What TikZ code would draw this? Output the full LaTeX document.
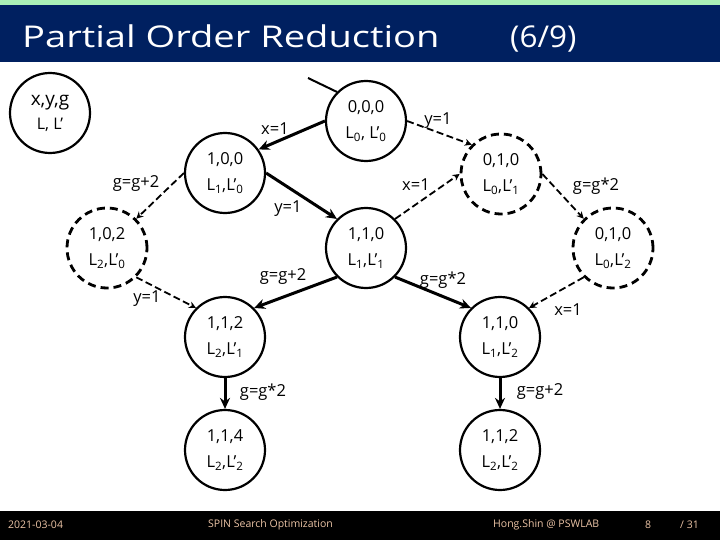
\documentclass[tikz,border=0pt]{standalone}
\usepackage{fontspec}
\setmainfont{Open Sans}
\usetikzlibrary{arrows.meta}
\definecolor{navy}{RGB}{0,32,96}
\definecolor{topgreen}{RGB}{170,240,182}
\definecolor{foottext}{RGB}{236,196,166}
\begin{document}
\begin{tikzpicture}[x=1pt,y=-1pt,
  st/.style={draw,circle,minimum size=80pt,inner sep=0pt,line width=2.2pt,align=center,
    font=\fontsize{16.5}{26}\selectfont},
  dst/.style={st,dash pattern=on 8pt off 5pt,line width=2.8pt},
  sarr/.style={line width=3pt,-{Stealth[length=11pt,width=10pt]}},
  darr/.style={line width=1.8pt,dash pattern=on 7pt off 3.5pt,-{Stealth[length=7pt,width=7pt]}},
  lab/.style={font=\fontsize{16.5}{18}\selectfont,inner sep=0pt},
  foot/.style={text=foottext,font=\fontsize{10.5}{12}\selectfont,inner sep=0pt}]
\useasboundingbox (0,0) rectangle (720,540);
% header
\fill[topgreen] (0,0) rectangle (720,5);
\fill[navy] (0,5) rectangle (720,62);
\node[text=white,anchor=base west,inner sep=0pt] (title) at (22,48)
  {\scalebox{1.27}[1]{\fontsize{30}{34}\selectfont Partial Order Reduction}};
\node[text=white,anchor=base west,inner sep=0pt] (pg) at (510,48)
  {\scalebox{1.05}[1]{\fontsize{30}{34}\selectfont (6/9)}};
% footer
\fill[black] (0,511) rectangle (720,540);
\node[foot,anchor=west] (fdate) at (8,525) {2021-03-04};
\node[foot,anchor=west] (ftitle) at (208,525) {SPIN Search Optimization};
\node[foot,anchor=west] (fauth) at (493,525) {Hong.Shin @ PSWLAB};
\node[foot,anchor=west] (fnum) at (645,525) {8};
\node[foot,anchor=west] (ftot) at (680,525) {/ 31};
% legend
\node[st] (leg) at (50,113) {{\fontsize{19}{22}\selectfont x,y,g}\\[-2pt]{\fontsize{16}{18}\selectfont L, L’}};
% states
\node[st] (n000) at (366,121) {0,0,0\\L\textsubscript{0}, L’\textsubscript{0}};
\node[st] (n100) at (225,173) {1,0,0\\L\textsubscript{1},L’\textsubscript{0}};
\node[dst] (n102) at (107,248) {1,0,2\\L\textsubscript{2},L’\textsubscript{0}};
\node[st] (n110) at (366,248) {1,1,0\\L\textsubscript{1},L’\textsubscript{1}};
\node[dst] (n010) at (501,174) {0,1,0\\L\textsubscript{0},L’\textsubscript{1}};
\node[dst] (n010b) at (613,248) {0,1,0\\L\textsubscript{0},L’\textsubscript{2}};
\node[st] (n112) at (225,337) {1,1,2\\L\textsubscript{2},L’\textsubscript{1}};
\node[st] (n110b) at (500,337) {1,1,0\\L\textsubscript{1},L’\textsubscript{2}};
\node[st] (n114) at (225,450) {1,1,4\\L\textsubscript{2},L’\textsubscript{2}};
\node[st] (n112b) at (500,450) {1,1,2\\L\textsubscript{2},L’\textsubscript{2}};
% initial
\coordinate (init) at (308,78);
\draw[line width=2pt] (init) -- (n000.135);
% edges
\draw[sarr] (n000.west) -- (n100.35);
\draw[darr] (n000.east) -- (n010.135);
\draw[darr] (n100.west) -- (n102.45);
\draw[sarr] (n100.east) -- (n110.135);
\draw[darr] (n110.45) -- (n010.west);
\draw[darr] (n010.east) -- (n010b.135);
\draw[darr] (n102.-45) -- (n112.135);
\draw[sarr] (n110.225) -- (n112.45);
\draw[sarr] (n110.-45) -- (n110b.135);
\draw[darr] (n010b.225) -- (n110b.45);
\draw[sarr] (n112.south) -- (n114.north);
\draw[sarr] (n110b.south) -- (n112b.north);
% labels
\node[lab] (l1) at (275,129) {x=1};
\node[lab] (l2) at (438,121) {y=1};
\node[lab] (l3) at (136,184) {g=g+2};
\node[lab] (l4) at (288,209) {y=1};
\node[lab] (l5) at (416,185) {x=1};
\node[lab] (l6) at (596,186) {g=g*2};
\node[lab] (l7) at (147,299) {y=1};
\node[lab] (l8) at (283,277) {g=g+2};
\node[lab] (l9) at (443,280) {g=g*2};
\node[lab] (l10) at (568,310) {x=1};
\node[lab] (l11) at (263,392) {g=g*2};
\node[lab] (l12) at (540,392) {g=g+2};
\end{tikzpicture}
\end{document}
